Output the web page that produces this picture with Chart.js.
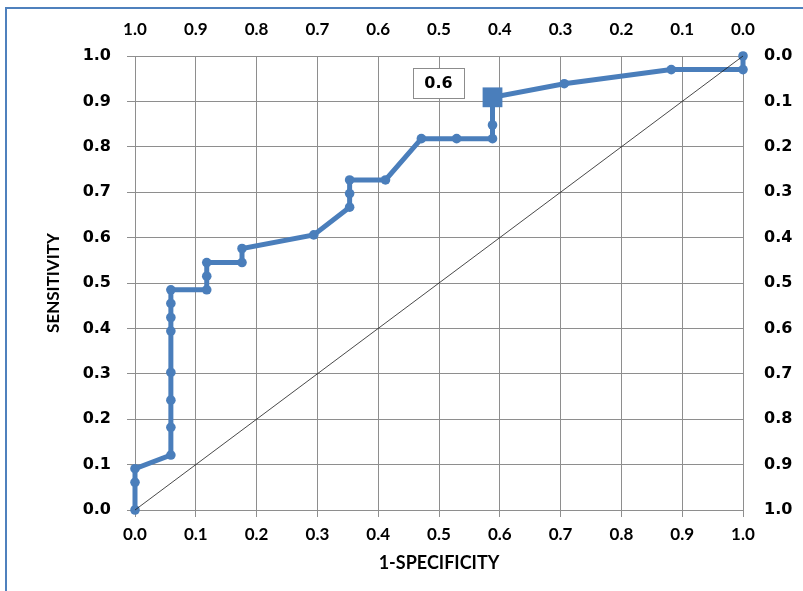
<!DOCTYPE html>
<html><head><meta charset="utf-8">
<script src="https://cdn.jsdelivr.net/npm/chart.js@4"></script>
<style>
html,body{margin:0;padding:0;background:#fff;}
#wrap{position:relative;width:803px;height:591px;overflow:hidden;}
#frame{position:absolute;left:5px;top:7px;width:820px;height:620px;border-left:2px solid #4f81bd;border-top:2px solid #4f81bd;pointer-events:none;}
canvas{position:absolute;left:0;top:0;}
</style></head><body>
<div id="wrap"><canvas id="c" width="803" height="591"></canvas><div id="frame"></div></div>
<script>
// 1-specificity (x) and sensitivity (y) of the ROC curve points
const fpr = [0, 0, 0, 0.059, 0.059, 0.059, 0.059, 0.059, 0.059, 0.059, 0.059, 0.118, 0.118, 0.118, 0.176, 0.176, 0.294, 0.353, 0.353, 0.353, 0.412, 0.471, 0.529, 0.588, 0.588, 0.588, 0.706, 0.882, 1.0, 1.0];
const tpr = [0, 0.061, 0.091, 0.121, 0.182, 0.242, 0.303, 0.394, 0.424, 0.455, 0.485, 0.485, 0.515, 0.545, 0.545, 0.576, 0.606, 0.667, 0.697, 0.727, 0.727, 0.818, 0.818, 0.818, 0.848, 0.909, 0.939, 0.970, 0.970, 1.0];
const cutIndex = 25;          // highlighted optimal cut-off point
const cutLabel = '0.6';
const diagX = [0, 1];
const diagY = [0, 1];
const tickValues = [0, 0.1, 0.2, 0.3, 0.4, 0.5, 0.6, 0.7, 0.8, 0.9, 1.0];

const BLUE = '#4a7ebb';
const GRID = '#8e8e8e';
const rocPts = fpr.map((x, i) => ({x: x, y: tpr[i]}));
const diagPts = diagX.map((x, i) => ({x: x, y: diagY[i]}));

const labelPlugin = {
  id: 'cutlabel',
  afterDatasetsDraw(chart) {
    const ctx = chart.ctx;
    const px = chart.scales.x.getPixelForValue(fpr[cutIndex]);
    const py = chart.scales.y.getPixelForValue(tpr[cutIndex]);
    const cx = px - 54, cy = py - 14;
    const w = 51, h = 30;
    ctx.save();
    ctx.fillStyle = '#fff';
    ctx.strokeStyle = '#8c8c8c';
    ctx.lineWidth = 1;
    ctx.fillRect(cx - w/2, cy - h/2, w, h);
    ctx.strokeRect(Math.round(cx - w/2) + 0.5, Math.round(cy - h/2) + 0.5, w, h);
    ctx.fillStyle = '#000';
    ctx.font = 'bold 16px "DejaVu Sans"';
    ctx.textAlign = 'center';
    ctx.textBaseline = 'middle';
    ctx.fillText(cutLabel, cx, cy + 1);
    ctx.restore();
  }
};

const fmt = v => Number(v).toFixed(1);
const afterBuild = s => { s.ticks = tickValues.map(v => ({value: v})); };

new Chart(document.getElementById('c'), {
  type: 'scatter',
  data: {
    datasets: [
      {
        data: diagPts, showLine: true, borderColor: '#1a1a1a', borderWidth: 0.8,
        pointRadius: 0, pointHoverRadius: 0, xAxisID: 'x', yAxisID: 'y', order: 0, clip: false
      },
      {
        data: rocPts, showLine: true, borderColor: BLUE, borderWidth: 5,
        backgroundColor: BLUE, pointBackgroundColor: BLUE, pointBorderColor: BLUE,
        pointStyle: fpr.map((v, i) => i === cutIndex ? 'rect' : 'circle'),
        pointRadius: fpr.map((v, i) => i === cutIndex ? 14 : 4.8),
        pointBorderWidth: 0, tension: 0, xAxisID: 'x', yAxisID: 'y', order: 1, clip: false
      }
    ]
  },
  options: {
    responsive: false, animation: false, devicePixelRatio: 1,
    layout: {padding: 0},
    plugins: {legend: {display: false}, tooltip: {enabled: false}},
    scales: {
      x: {
        type: 'linear', position: 'bottom', min: 0, max: 1,
        afterBuildTicks: afterBuild,
        afterFit: s => { s.height = 81; },
        grid: {color: GRID, lineWidth: 1, tickLength: 7},
        border: {color: GRID},
        ticks: {callback: fmt, color: '#000', font: {family: 'Lato', weight: 'bold', size: 17}, padding: 7, maxRotation: 0, autoSkip: false},
        title: {display: true, text: '1-SPECIFICITY', color: '#000', font: {family: 'Lato', weight: 'bold', size: 18}, padding: {top: 0, bottom: 17}}
      },
      x2: {
        type: 'linear', position: 'top', min: 0, max: 1, reverse: true,
        afterBuildTicks: afterBuild,
        afterFit: s => { s.height = 56; },
        grid: {drawOnChartArea: false, drawTicks: false, color: GRID},
        border: {color: GRID},
        ticks: {callback: fmt, color: '#000', font: {family: 'Lato', weight: 'bold', size: 17}, padding: 16, maxRotation: 0, autoSkip: false}
      },
      y: {
        type: 'linear', position: 'left', min: 0, max: 1,
        afterBuildTicks: afterBuild,
        afterFit: s => { s.width = 135; },
        grid: {color: GRID, lineWidth: 1, tickLength: 8},
        border: {color: GRID},
        ticks: {callback: fmt, color: '#000', font: {family: 'DejaVu Sans', weight: 'bold', size: 16}, padding: 16, autoSkip: false},
        title: {display: true, text: 'SENSITIVITY', color: '#000', font: {family: 'Lato', weight: 'bold', size: 17}, padding: {top: 43, bottom: 0}}
      },
      y2: {
        type: 'linear', position: 'right', min: 0, max: 1, reverse: true,
        afterBuildTicks: afterBuild,
        afterFit: s => { s.width = 60; },
        grid: {drawOnChartArea: false, drawTicks: false, color: GRID},
        border: {color: GRID},
        ticks: {callback: fmt, color: '#000', font: {family: 'DejaVu Sans', weight: 'bold', size: 16}, padding: 21, autoSkip: false}
      }
    }
  },
  plugins: [labelPlugin]
});
</script>
</body></html>
